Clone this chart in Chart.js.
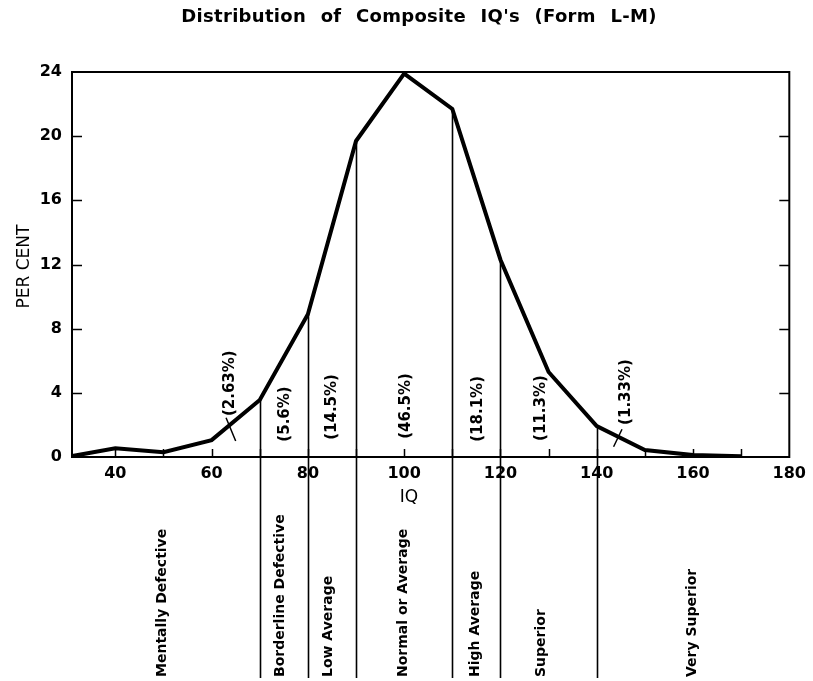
<!DOCTYPE html>
<html>
<head>
<meta charset="utf-8">
<script src="https://cdn.jsdelivr.net/npm/chart.js@4.4.0/dist/chart.umd.min.js"></script>
<style>
  html, body { margin: 0; padding: 0; background: #ffffff; }
  #wrap { width: 813px; height: 681px; }
</style>
</head>
<body>
<div id="wrap"><canvas id="c" width="813" height="681"></canvas></div>
<script>
// ---- data ----
const iqValues      = [30, 40, 50, 60, 70, 80, 90, 100, 110, 120, 130, 140, 150, 160, 170];
const percentValues = [0, 0.55, 0.3, 1.05, 3.55, 8.9, 19.7, 23.9, 21.7, 12.3, 5.3, 1.93, 0.44, 0.12, 0.05];
const xTickValues   = [40, 60, 80, 100, 120, 140, 160, 180];
const yTickValues   = [0, 4, 8, 12, 16, 20, 24];
const boundaryIQs   = [70, 80, 90, 110, 120, 140];
const bandNames     = ['Mentally Defective', 'Borderline Defective', 'Low Average', 'Normal or Average', 'High Average', 'Superior', 'Very Superior'];
const bandShares    = ['(2.63%)', '(5.6%)', '(14.5%)', '(46.5%)', '(18.1%)', '(11.3%)', '(1.33%)'];
const titleText     = "Distribution of Composite IQ's (Form L-M)";
const xTitleText    = 'IQ';
const yTitleText    = 'PER CENT';

// ---- annotation anchors (layout, in axis units) ----
const shareAnchorX = [63.9, 75.3, 85.1, 100.4, 115.4, 128.5, 146.1];
const shareAnchorY = [4.6, 2.68, 3.12, 3.18, 3.0, 3.05, 4.05];
const bandAnchorX  = [49.7, 74.3, 84.2, 99.8, 114.8, 128.6, 159.8];
const leaders = [
  { x1: 63.0, y1: 2.45, x2: 65.0, y2: 1.0 },
  { x1: 145.25, y1: 1.73, x2: 143.5, y2: 0.64 }
];

const FONT = "'DejaVu Sans', sans-serif";

const annotate = {
  id: 'annotate',
  afterDraw(chart) {
    const { ctx, chartArea: a, scales: { x, y } } = chart;
    ctx.save();
    ctx.strokeStyle = '#000';
    ctx.fillStyle = '#000';
    ctx.lineCap = 'butt';

    // frame
    ctx.lineWidth = 2;
    ctx.strokeRect(a.left, a.top, a.right - a.left, a.bottom - a.top);

    // inward ticks
    ctx.lineWidth = 1.5;
    ctx.beginPath();
    yTickValues.slice(1, -1).forEach(v => {
      const py = Math.round(y.getPixelForValue(v)) + 0.5;
      ctx.moveTo(a.left, py); ctx.lineTo(a.left + 10, py);
      ctx.moveTo(a.right, py); ctx.lineTo(a.right - 10, py);
    });
    for (let v = 40; v <= 170; v += 10) {
      const px = Math.round(x.getPixelForValue(v)) + 0.5;
      ctx.moveTo(px, a.bottom); ctx.lineTo(px, a.bottom - 8);
    }
    ctx.stroke();

    // class boundary lines from the curve down past the axis
    ctx.lineWidth = 1.6;
    ctx.beginPath();
    boundaryIQs.forEach(b => {
      const v = percentValues[iqValues.indexOf(b)];
      const px = Math.round(x.getPixelForValue(b)) + 0.5;
      ctx.moveTo(px, y.getPixelForValue(v));
      ctx.lineTo(px, 678);
    });
    ctx.stroke();

    // leader lines
    ctx.lineWidth = 1.5;
    ctx.beginPath();
    leaders.forEach(l => {
      ctx.moveTo(x.getPixelForValue(l.x1), y.getPixelForValue(l.y1));
      ctx.lineTo(x.getPixelForValue(l.x2), y.getPixelForValue(l.y2));
    });
    ctx.stroke();

    // share labels (rotated)
    ctx.font = 'bold 15px ' + FONT;
    ctx.textAlign = 'center';
    ctx.textBaseline = 'middle';
    bandShares.forEach((t, i) => {
      ctx.save();
      ctx.translate(x.getPixelForValue(shareAnchorX[i]), y.getPixelForValue(shareAnchorY[i]));
      ctx.rotate(-Math.PI / 2);
      ctx.fillText(t, 0, 0);
      ctx.restore();
    });

    // band names below the axis (rotated)
    ctx.font = 'bold 14px ' + FONT;
    ctx.textAlign = 'left';
    bandNames.forEach((t, i) => {
      ctx.save();
      ctx.translate(x.getPixelForValue(bandAnchorX[i]), 677);
      ctx.rotate(-Math.PI / 2);
      ctx.fillText(t, 0, 0);
      ctx.restore();
    });

    // axis titles
    ctx.font = '17px ' + FONT;
    ctx.textAlign = 'center';
    ctx.fillText(xTitleText, x.getPixelForValue(101), 498);
    ctx.save();
    ctx.translate(25, (a.top + a.bottom) / 2 + 2);
    ctx.rotate(-Math.PI / 2);
    ctx.fillText(yTitleText, 0, 0);
    ctx.restore();

    // main title
    ctx.font = 'bold 18px ' + FONT;
    try { ctx.wordSpacing = '8px'; ctx.letterSpacing = '0.3px'; } catch (e) {}
    ctx.fillText(titleText, 419, 17);
    ctx.restore();
  }
};

new Chart(document.getElementById('c'), {
  type: 'line',
  data: {
    datasets: [{
      data: iqValues.map((v, i) => ({ x: v, y: percentValues[i] })),
      borderColor: '#000',
      borderWidth: 4,
      pointRadius: 0,
      tension: 0,
      fill: false,
      borderJoinStyle: 'miter'
    }]
  },
  options: {
    responsive: false,
    animation: false,
    layout: { padding: { top: 72, left: 0, right: 23, bottom: 0 } },
    plugins: { legend: { display: false }, title: { display: false }, tooltip: { enabled: false } },
    scales: {
      x: {
        type: 'linear',
        min: 31, max: 180,
        afterBuildTicks: s => { s.ticks = xTickValues.map(v => ({ value: v })); },
        grid: { display: false, drawTicks: false },
        border: { display: false },
        ticks: { color: '#000', font: { family: FONT, weight: 'bold', size: 16 }, padding: 7, maxRotation: 0, autoSkip: false },
        afterFit: s => { s.height = 224; }
      },
      y: {
        min: 0, max: 24,
        afterBuildTicks: s => { s.ticks = yTickValues.map(v => ({ value: v })); },
        grid: { display: false, drawTicks: false },
        border: { display: false },
        ticks: { color: '#000', font: { family: FONT, weight: 'bold', size: 16 }, padding: 10 },
        afterFit: s => { s.width = 72; }
      }
    }
  },
  plugins: [annotate]
});
</script>
</body>
</html>
